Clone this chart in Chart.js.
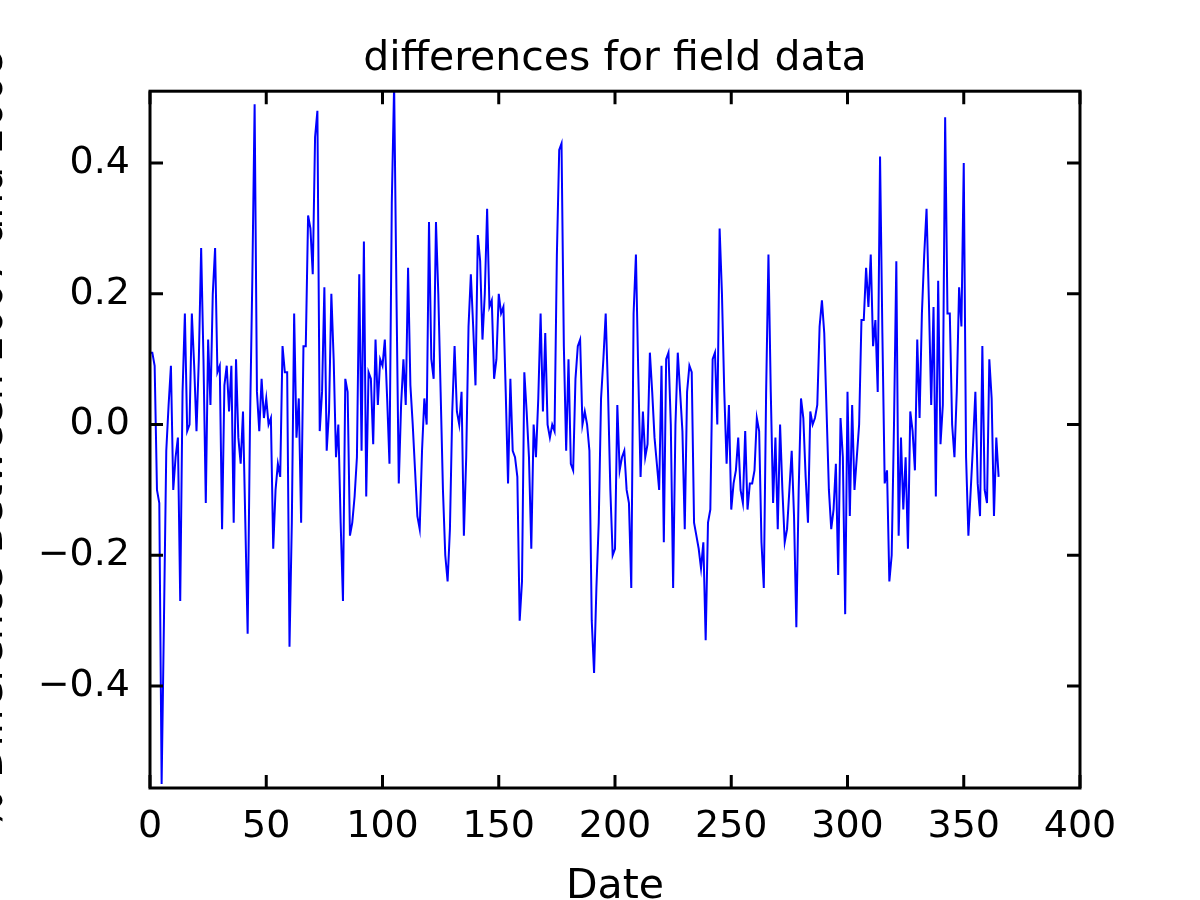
<!DOCTYPE html>
<html>
<head>
<meta charset="utf-8">
<title>differences for field data</title>
<script src="https://cdn.jsdelivr.net/npm/chart.js@4.4.1/dist/chart.umd.min.js"></script>
<style>
  html, body { margin: 0; padding: 0; background: #fff; overflow: hidden; width: 1200px; height: 900px; }
  #wrap { position: absolute; left: -40px; top: 0; width: 1240px; height: 920px; }
</style>
</head>
<body>
<div id="wrap"><canvas id="diffChart" width="1240" height="920"></canvas></div>
<script>
// daily % difference, day 0 .. 365
const diffValues = [
  0.11, 0.11, 0.09, -0.10, -0.12, -0.55, -0.30, -0.04, 0.03, 0.09,
  -0.10, -0.05, -0.02, -0.27, 0.05, 0.17, -0.01, 0.00, 0.17, 0.09,
  -0.01, 0.10, 0.27, 0.10, -0.12, 0.13, 0.03, 0.20, 0.27, 0.08,
  0.09, -0.16, 0.06, 0.09, 0.02, 0.09, -0.15, 0.10, -0.02, -0.06,
  0.02, -0.15, -0.32, 0.00, 0.22, 0.49, 0.05, -0.01, 0.07, 0.01,
  0.04, 0.00, 0.01, -0.19, -0.10, -0.06, -0.08, 0.12, 0.08, 0.08,
  -0.34, -0.15, 0.17, -0.02, 0.04, -0.15, 0.12, 0.12, 0.32, 0.30,
  0.23, 0.44, 0.48, -0.01, 0.05, 0.21, -0.04, 0.02, 0.20, 0.10,
  -0.05, 0.00, -0.15, -0.27, 0.07, 0.05, -0.17, -0.15, -0.11, -0.05,
  0.23, -0.04, 0.28, -0.11, 0.08, 0.07, -0.03, 0.13, 0.03, 0.10,
  0.09, 0.13, 0.04, -0.06, 0.34, 0.52, 0.20, -0.09, 0.03, 0.10,
  0.03, 0.24, 0.06, 0.00, -0.07, -0.14, -0.16, -0.04, 0.04, 0.00,
  0.31, 0.10, 0.07, 0.31, 0.20, 0.05, -0.10, -0.20, -0.24, -0.16,
  0.02, 0.12, 0.02, 0.00, 0.05, -0.17, -0.05, 0.15, 0.23, 0.15,
  0.06, 0.29, 0.25, 0.13, 0.20, 0.33, 0.18, 0.19, 0.07, 0.10,
  0.20, 0.17, 0.18, 0.05, -0.09, 0.07, -0.04, -0.05, -0.08, -0.30,
  -0.24, 0.08, 0.02, -0.05, -0.19, 0.00, -0.05, 0.04, 0.17, 0.02,
  0.14, 0.00, -0.02, 0.00, -0.01, 0.26, 0.42, 0.43, 0.12, -0.04,
  0.10, -0.06, -0.07, 0.07, 0.12, 0.13, 0.00, 0.02, 0.00, -0.04,
  -0.30, -0.38, -0.25, -0.15, 0.04, 0.10, 0.17, 0.05, -0.10, -0.20,
  -0.19, 0.03, -0.07, -0.05, -0.04, -0.10, -0.12, -0.25, 0.17, 0.26,
  0.08, -0.08, 0.02, -0.05, -0.03, 0.11, 0.05, -0.02, -0.06, -0.10,
  0.09, -0.18, 0.10, 0.11, 0.00, -0.25, 0.00, 0.11, 0.05, -0.01,
  -0.16, 0.05, 0.09, 0.08, -0.15, -0.17, -0.19, -0.22, -0.18, -0.33,
  -0.15, -0.13, 0.10, 0.11, 0.00, 0.30, 0.20, 0.05, -0.06, 0.03,
  -0.13, -0.09, -0.07, -0.02, -0.10, -0.12, -0.01, -0.13, -0.09, -0.09,
  -0.07, 0.01, -0.01, -0.18, -0.25, 0.05, 0.26, 0.05, -0.12, -0.02,
  -0.16, 0.00, -0.10, -0.18, -0.16, -0.10, -0.04, -0.14, -0.31, -0.10,
  0.04, 0.01, -0.08, -0.15, 0.02, 0.00, 0.01, 0.03, 0.15, 0.19,
  0.14, 0.02, -0.10, -0.16, -0.13, -0.06, -0.23, 0.01, -0.05, -0.29,
  0.05, -0.14, 0.03, -0.10, -0.05, 0.00, 0.16, 0.16, 0.24, 0.18,
  0.26, 0.12, 0.16, 0.05, 0.41, 0.14, -0.09, -0.07, -0.24, -0.20,
  0.00, 0.25, -0.17, -0.02, -0.13, -0.05, -0.19, 0.02, -0.01, -0.07,
  0.13, 0.01, 0.17, 0.26, 0.33, 0.19, 0.03, 0.18, -0.11, 0.22,
  -0.03, 0.03, 0.47, 0.17, 0.17, 0.00, -0.05, 0.05, 0.21, 0.15,
  0.40, -0.05, -0.17, -0.10, -0.03, 0.05, -0.09, -0.14, 0.12, -0.10,
  -0.12, 0.10, 0.04, -0.14, -0.02, -0.08
];
const days = diffValues.map((v, i) => i);

const xTicks = [0, 50, 100, 150, 200, 250, 300, 350, 400];
const yTicks = [-0.4, -0.2, 0.0, 0.2, 0.4];
const xRange = [0, 400];
const yRange = [-0.556, 0.51];

const titleText = 'differences for field data';
const xLabel = 'Date';
const yLabel = '% Difference Between 2007 and 2008';

const FONT = "'DejaVu Sans', sans-serif";
Chart.defaults.color = '#000';
Chart.defaults.font.family = FONT;

function fmtY(v) {
  const r = Math.round(v * 10) / 10;
  return (r < 0 ? '\u2212' : '') + Math.abs(r).toFixed(1);
}

// matplotlib style frame with inward ticks on all four sides
const frameTicks = {
  id: 'frameTicks',
  afterDatasetsDraw(chart) {
    const { ctx, chartArea: a, scales } = chart;
    const len = 13;
    ctx.save();
    ctx.strokeStyle = '#000';
    ctx.lineWidth = 3;
    ctx.lineCap = 'butt';
    ctx.beginPath();
    xTicks.forEach(t => {
      const px = scales.x.getPixelForValue(t);
      ctx.moveTo(px, a.bottom); ctx.lineTo(px, a.bottom - len);
      ctx.moveTo(px, a.top); ctx.lineTo(px, a.top + len);
    });
    yTicks.forEach(t => {
      const py = scales.y.getPixelForValue(t);
      ctx.moveTo(a.left, py); ctx.lineTo(a.left + len, py);
      ctx.moveTo(a.right, py); ctx.lineTo(a.right - len, py);
    });
    ctx.stroke();
    ctx.strokeRect(a.left, a.top, a.right - a.left, a.bottom - a.top);
    ctx.restore();
  }
};

new Chart(document.getElementById('diffChart'), {
  type: 'line',
  data: {
    datasets: [{
      data: days.map((d, i) => ({ x: d, y: diffValues[i] })),
      borderColor: '#0000ff',
      borderWidth: 2,
      pointRadius: 0,
      tension: 0,
      fill: false
    }]
  },
  options: {
    responsive: false,
    animation: false,
    devicePixelRatio: 1,
    layout: { padding: { left: 0, right: 120, top: 0, bottom: 0 } },
    plugins: {
      legend: { display: false },
      tooltip: { enabled: false },
      title: {
        display: true,
        text: titleText,
        fullSize: false,
        font: { size: 41, weight: 'normal', family: FONT },
        padding: { top: 35, bottom: 7 }
      }
    },
    scales: {
      x: {
        type: 'linear',
        min: xRange[0],
        max: xRange[1],
        grid: { display: false, drawTicks: false },
        border: { display: false },
        ticks: {
          stepSize: 50,
          padding: 16,
          maxRotation: 0,
          font: { size: 38 },
          callback: v => String(v)
        },
        title: {
          display: true,
          text: xLabel,
          font: { size: 41 },
          padding: { top: 0, bottom: 8 }
        },
        afterFit: s => { s.height = 132; }
      },
      y: {
        type: 'linear',
        min: yRange[0],
        max: yRange[1],
        grid: { display: false, drawTicks: false },
        border: { display: false },
        ticks: {
          stepSize: 0.2,
          includeBounds: false,
          padding: 20,
          font: { size: 38 },
          callback: v => fmtY(v)
        },
        title: {
          display: true,
          text: yLabel,
          font: { size: 41 },
          padding: { top: 7, bottom: 0 }
        },
        afterFit: s => { s.width = 190; }
      }
    }
  },
  plugins: [frameTicks]
});
</script>
</body>
</html>
